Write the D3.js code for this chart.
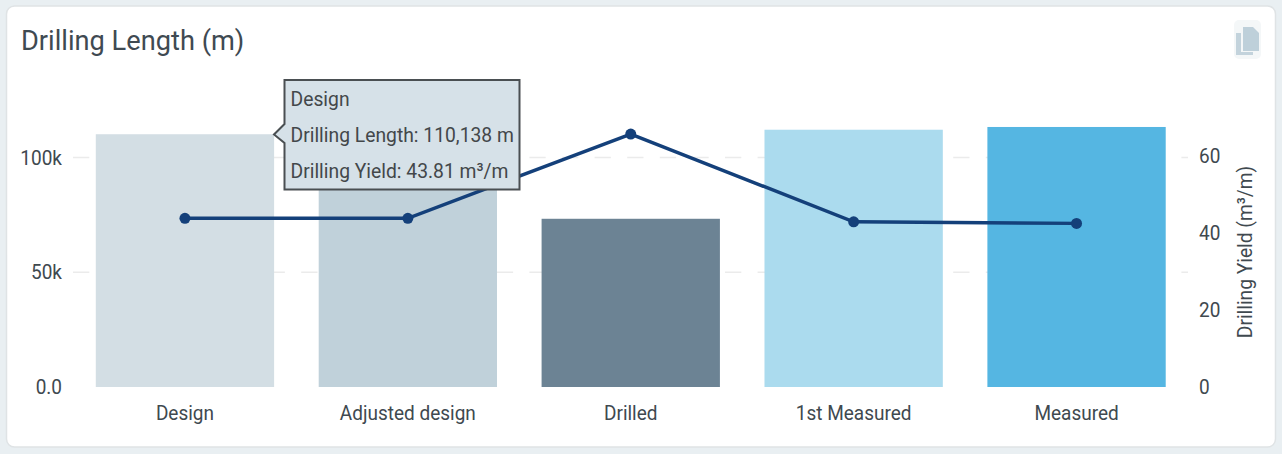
<!DOCTYPE html>
<html>
<head>
<meta charset="utf-8">
<script src="https://cdn.jsdelivr.net/npm/d3@7"></script>
<style>
html, body { margin:0; padding:0; background:#e9eff2; }
svg { display:block; font-family:Roboto, sans-serif; }
</style>
</head>
<body>
<script>
var categories = ['Design', 'Adjusted design', 'Drilled', '1st Measured', 'Measured'];
var lengths = [110138, 110000, 73300, 112100, 113300];
var yields = [43.81, 43.8, 65.7, 42.9, 42.5];
var barColors = ['#d3dee4', '#c0d1da', '#6c8394', '#abdbee', '#55b6e2'];
var lengthTicks = [0, 50000, 100000];
var lengthTickLabels = ['0.0', '50k', '100k'];
var yieldTicks = [0, 20, 40, 60];
var tooltipLines = ['Design', 'Drilling Length: 110,138 m', 'Drilling Yield: 43.81 m³/m'];

var width = 1282, height = 454;
var squeeze = 0.905; // the reference text is narrow and tall
var svg = d3.select('body').append('svg')
  .attr('width', width).attr('height', height);

// card
svg.append('rect')
  .attr('x', 6.5).attr('y', 6).attr('width', 1269).attr('height', 441)
  .attr('rx', 8).attr('fill', '#fff').attr('stroke', '#dfe3e5').attr('stroke-width', 1.5);

svg.append('text')
  .attr('transform', 'translate(21,50) scale(0.972,1)')
  .attr('font-size', 28).attr('fill', '#3f4a52')
  .text('Drilling Length (m)');

// copy icon
var icon = svg.append('g');
icon.append('rect').attr('x', 1234).attr('y', 20).attr('width', 27).attr('height', 39).attr('rx', 5).attr('fill', '#f4f7f8');
icon.append('path').attr('d', 'M1236 33h5v19h12v3h-17z').attr('fill', '#c3d3dc');
icon.append('path').attr('d', 'M1243 27h10l6 6v18h-16z').attr('fill', '#bed0da');

var x = d3.scaleBand().domain(categories).range([73.5, 1188]).paddingInner(0.2).paddingOuter(0.1);
var yLeft = d3.scaleLinear().domain([0, 100000]).range([387, 157.5]);
var yRight = d3.scaleLinear().domain([0, 60]).range([387, 156]);

// grid
svg.append('g').selectAll('line').data(lengthTicks.slice(1)).enter().append('line')
  .attr('x1', 73).attr('x2', 1188)
  .attr('y1', function(d) { return yLeft(d); }).attr('y2', function(d) { return yLeft(d); })
  .attr('stroke', '#ebebeb').attr('stroke-width', 1.5).attr('stroke-dasharray', '16.3 16.3');

// bars
svg.append('g').selectAll('rect').data(categories).enter().append('rect')
  .attr('x', function(d) { return x(d); })
  .attr('width', x.bandwidth())
  .attr('y', function(d, i) { return yLeft(lengths[i]); })
  .attr('height', function(d, i) { return yLeft(0) - yLeft(lengths[i]); })
  .attr('fill', function(d, i) { return barColors[i]; });

// axes
var leftAxis = d3.axisLeft(yLeft).tickValues(lengthTicks)
  .tickFormat(function(d, i) { return lengthTickLabels[i]; }).tickSize(0).tickPadding(0);
var rightAxis = d3.axisRight(yRight).tickValues(yieldTicks).tickSize(0).tickPadding(0);
var bottomAxis = d3.axisBottom(x).tickSize(0).tickPadding(0);

var gl = svg.append('g').attr('transform', 'translate(62,0)').call(leftAxis);
var gr = svg.append('g').attr('transform', 'translate(1199,0)').call(rightAxis);
var gb = svg.append('g').attr('transform', 'translate(0,405)').call(bottomAxis);
[gl, gr, gb].forEach(function(g) {
  g.select('.domain').remove();
  g.selectAll('text').attr('font-family', 'Roboto, sans-serif').attr('font-size', 21)
    .attr('fill', '#40494f').attr('transform', 'scale(' + squeeze + ',1)');
});

svg.append('text')
  .attr('transform', 'translate(1252,252) rotate(-90) scale(0.915,1)')
  .attr('text-anchor', 'middle').attr('font-size', 21).attr('fill', '#40494f')
  .text('Drilling Yield (m³/m)');

// line
var line = d3.line()
  .x(function(d, i) { return x(categories[i]) + x.bandwidth() / 2; })
  .y(function(d) { return yRight(d); });
svg.append('path').datum(yields)
  .attr('d', line).attr('fill', 'none').attr('stroke', '#14407a').attr('stroke-width', 3.5);
svg.append('g').selectAll('circle').data(yields).enter().append('circle')
  .attr('cx', function(d, i) { return x(categories[i]) + x.bandwidth() / 2; })
  .attr('cy', function(d) { return yRight(d); })
  .attr('r', 5.5).attr('fill', '#14407a');

// tooltip
var tip = svg.append('g');
tip.append('path')
  .attr('d', 'M284.5 80H519.5V189.5H284.5V143L274 134.5L284.5 124Z')
  .attr('fill', '#d6e1e8').attr('stroke', '#4a4f52').attr('stroke-width', 2);
tip.selectAll('text').data(tooltipLines).enter().append('text')
  .attr('transform', function(d, i) { return 'translate(290.5,' + (106 + i * 36) + ') scale(0.92,1)'; })
  .attr('font-size', 21).attr('fill', '#43474a')
  .text(function(d) { return d; });
</script>
</body>
</html>
